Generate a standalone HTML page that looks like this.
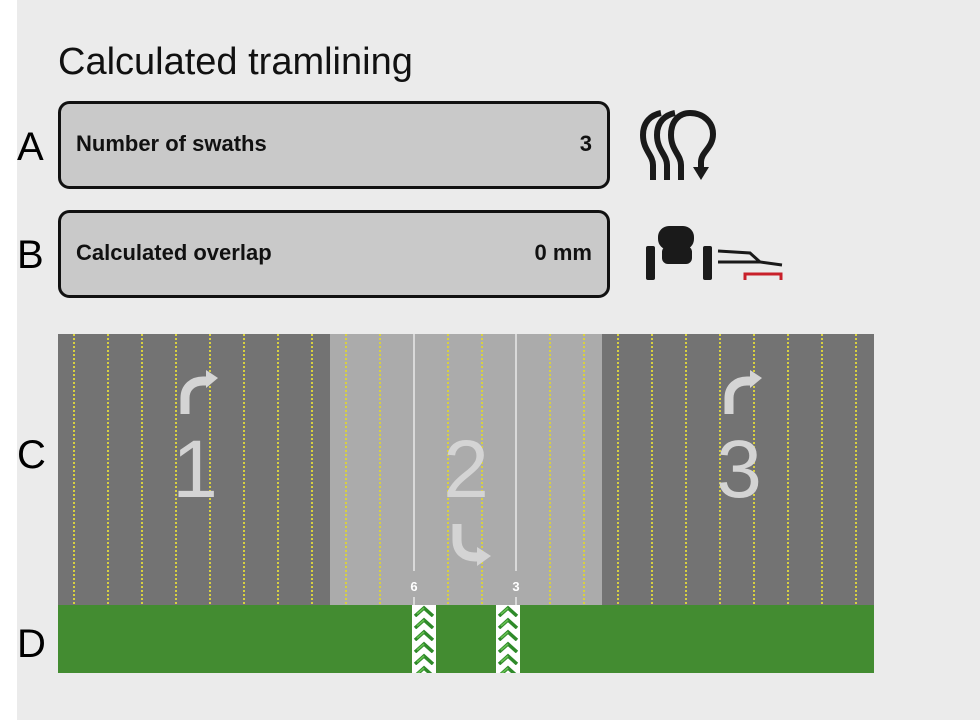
<!DOCTYPE html>
<html><head><meta charset="utf-8"><style>
html,body{margin:0;padding:0;background:#fff;}
svg{display:block}
text{font-family:"Liberation Sans",Arial,sans-serif}
</style></head><body>
<svg width="980" height="720" viewBox="0 0 980 720" xmlns="http://www.w3.org/2000/svg">
<defs>
<pattern id="chev" x="412" y="605" width="24" height="12" patternUnits="userSpaceOnUse">
<path d="M3,11 L12,3 L21,11" fill="none" stroke="#2f8a2a" stroke-width="3.5"/>
<path d="M5,9 L12,3" stroke="#66c050" stroke-width="1.5"/>
</pattern>
<pattern id="chev2" x="496" y="605" width="24" height="12" patternUnits="userSpaceOnUse">
<path d="M3,11 L12,3 L21,11" fill="none" stroke="#2f8a2a" stroke-width="3.5"/>
<path d="M5,9 L12,3" stroke="#66c050" stroke-width="1.5"/>
</pattern>
</defs>
<rect x="17" y="0" width="963" height="720" fill="#ebebeb"/>
<text x="58" y="74" font-size="38" fill="#111">Calculated tramlining</text>
<text x="17" y="160" font-size="40" fill="#000">A</text>
<text x="17" y="268" font-size="40" fill="#000">B</text>
<text x="17" y="468" font-size="40" fill="#000">C</text>
<text x="17" y="657" font-size="40" fill="#000">D</text>
<rect x="59.5" y="102.5" width="549" height="85" rx="10" fill="#c9c9c9" stroke="#111" stroke-width="3"/>
<rect x="59.5" y="211.5" width="549" height="85" rx="10" fill="#c9c9c9" stroke="#111" stroke-width="3"/>
<text x="76" y="151" font-size="22" font-weight="bold" fill="#111">Number of swaths</text>
<text x="592" y="151" font-size="22" font-weight="bold" fill="#111" text-anchor="end">3</text>
<text x="76" y="260" font-size="22" font-weight="bold" fill="#111">Calculated overlap</text>
<text x="592" y="260" font-size="22" font-weight="bold" fill="#111" text-anchor="end">0 mm</text>
<!-- icon A -->
<g fill="none" stroke="#1a1a1a" stroke-width="6" stroke-linecap="butt">
<path d="M653,180 V165 C653,155 643,150 643,135 C643,122 651,115 661,113"/>
<path d="M667,180 V165 C667,155 657,150 657,135 C657,122 665,115 675,113"/>
<path d="M681,180 V165 C681,155 671,150 671,135 C671,120 680,113 690,113 C703,113 713,122 713,134 C713,148 701,152 701,162 V170"/>
</g>
<path d="M693,167 L709,167 L701,180 Z" fill="#1a1a1a"/>
<!-- icon B -->
<rect x="646" y="246" width="9" height="34" rx="2" fill="#1a1a1a"/>
<rect x="703" y="246" width="9" height="34" rx="2" fill="#1a1a1a"/>
<rect x="658" y="226" width="36" height="24" rx="11" fill="#1a1a1a"/>
<rect x="662" y="246" width="30" height="18" rx="6" fill="#1a1a1a"/>
<path d="M718,251 L750,253 L760,262 L782,265" fill="none" stroke="#1a1a1a" stroke-width="3"/>
<path d="M718,262 L760,262" stroke="#1a1a1a" stroke-width="3"/>
<path d="M745,280 V274 H781 V280" fill="none" stroke="#c8202a" stroke-width="3"/>
<!-- field -->
<rect x="58" y="334" width="272" height="272" fill="#737373"/>
<rect x="330" y="334" width="272" height="272" fill="#ababab"/>
<rect x="602" y="334" width="272" height="272" fill="#737373"/>
<g stroke="#d8d040" stroke-width="2" stroke-dasharray="2 2">
<path d="M74,334V605M108,334V605M142,334V605M176,334V605M210,334V605M244,334V605M278,334V605M312,334V605M346,334V605M380,334V605M448,334V605M482,334V605M550,334V605M584,334V605M618,334V605M652,334V605M686,334V605M720,334V605M754,334V605M788,334V605M822,334V605M856,334V605"/>
</g>
<g fill="#d9d9d9">
<rect x="413" y="334" width="2" height="237"/><rect x="515" y="334" width="2" height="237"/>
<rect x="413" y="597" width="2" height="9"/><rect x="515" y="597" width="2" height="9"/>
</g>
<text x="414" y="591" font-size="13" font-weight="bold" fill="#fff" text-anchor="middle">6</text>
<text x="516" y="591" font-size="13" font-weight="bold" fill="#fff" text-anchor="middle">3</text>
<g fill="#d4d4d4" font-size="82">
<text x="195" y="497" text-anchor="middle">1</text>
<text x="466" y="497" text-anchor="middle">2</text>
<text x="739" y="497" text-anchor="middle">3</text>
</g>
<g fill="none" stroke="#d4d4d4" stroke-width="9">
<path d="M185,414 V398 C185,388 192,381 203,381 H208"/>
<path d="M729,414 V398 C729,388 736,381 747,381 H752"/>
<path d="M457,524 V540 C457,551 464,557 475,557 H479"/>
</g>
<g fill="#d4d4d4">
<path d="M206,370 L218,378 L206,388 Z"/>
<path d="M750,370 L762,378 L750,388 Z"/>
<path d="M477,547 L491,556 L477,566 Z"/>
</g>
<rect x="58" y="605" width="816" height="68" fill="#438c31"/>
<rect x="412" y="605" width="24" height="68" fill="#fff"/>
<rect x="496" y="605" width="24" height="68" fill="#fff"/>
<rect x="412" y="605" width="24" height="68" fill="url(#chev)"/>
<rect x="496" y="605" width="24" height="68" fill="url(#chev2)"/>
</svg>
</body></html>
